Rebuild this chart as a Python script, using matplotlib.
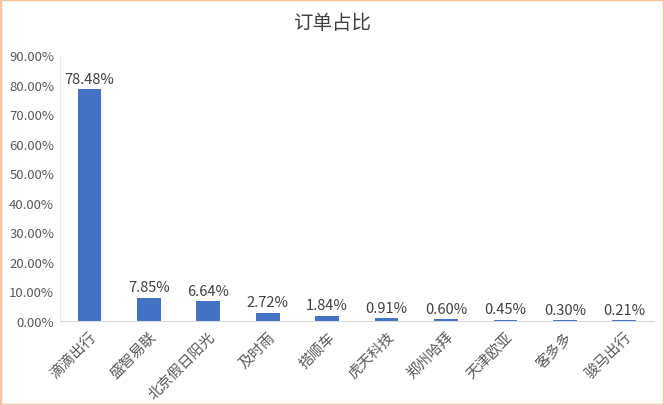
import matplotlib
matplotlib.use("Agg")
import matplotlib.pyplot as plt
from matplotlib.ticker import FuncFormatter
from matplotlib.patches import Rectangle

plt.rcParams['font.family'] = ['Noto Sans CJK SC', 'DejaVu Sans']

categories = ["滴滴出行", "盛智易联", "北京假日阳光", "及时雨", "搭顺车", "虎天科技", "郑州哈拜", "天津欧亚", "客多多", "骏马出行"]
values = [78.48, 7.85, 6.64, 2.72, 1.84, 0.91, 0.60, 0.45, 0.30, 0.21]
yticks = [0, 10, 20, 30, 40, 50, 60, 70, 80, 90]

fig = plt.figure(figsize=(6.64, 4.06), dpi=100)
ax = fig.add_axes([0.09, 0.207, 0.895, 0.655])

x = list(range(len(categories)))
bars = ax.bar(x, values, width=0.4, color="#4472C4")
for xi, v in zip(x, values):
    ax.text(xi, v + 1.2, f"{v:.2f}%", ha="center", va="bottom", fontsize=10.5, color="#404040")

ax.set_xlim(-0.5, len(categories) - 0.5)
ax.set_ylim(0, 90)
ax.set_yticks(yticks)
ax.yaxis.set_major_formatter(FuncFormatter(lambda v, p: f"{v:.2f}%"))
ax.set_xticks(x)
ax.set_xticklabels(categories, rotation=45, ha="right", rotation_mode="anchor", fontsize=10.5)
ax.tick_params(axis="both", length=0, colors="#595959")
ax.tick_params(axis="y", labelsize=9.5, pad=4)
ax.tick_params(axis="x", pad=6)
for s in ["top", "right"]:
    ax.spines[s].set_visible(False)
ax.spines["bottom"].set_color("#D9D9D9")
ax.spines["left"].set_color("#EDEDED")

fig.text(0.5, 0.942, "订单占比", ha="center", va="center", fontsize=14, color="#404040")

fig.patches.append(Rectangle((0, 0), 1, 1, transform=fig.transFigure, fill=False,
                             edgecolor="#F4C7A0", linewidth=2.5))
fig.savefig("out.png", dpi=100)
